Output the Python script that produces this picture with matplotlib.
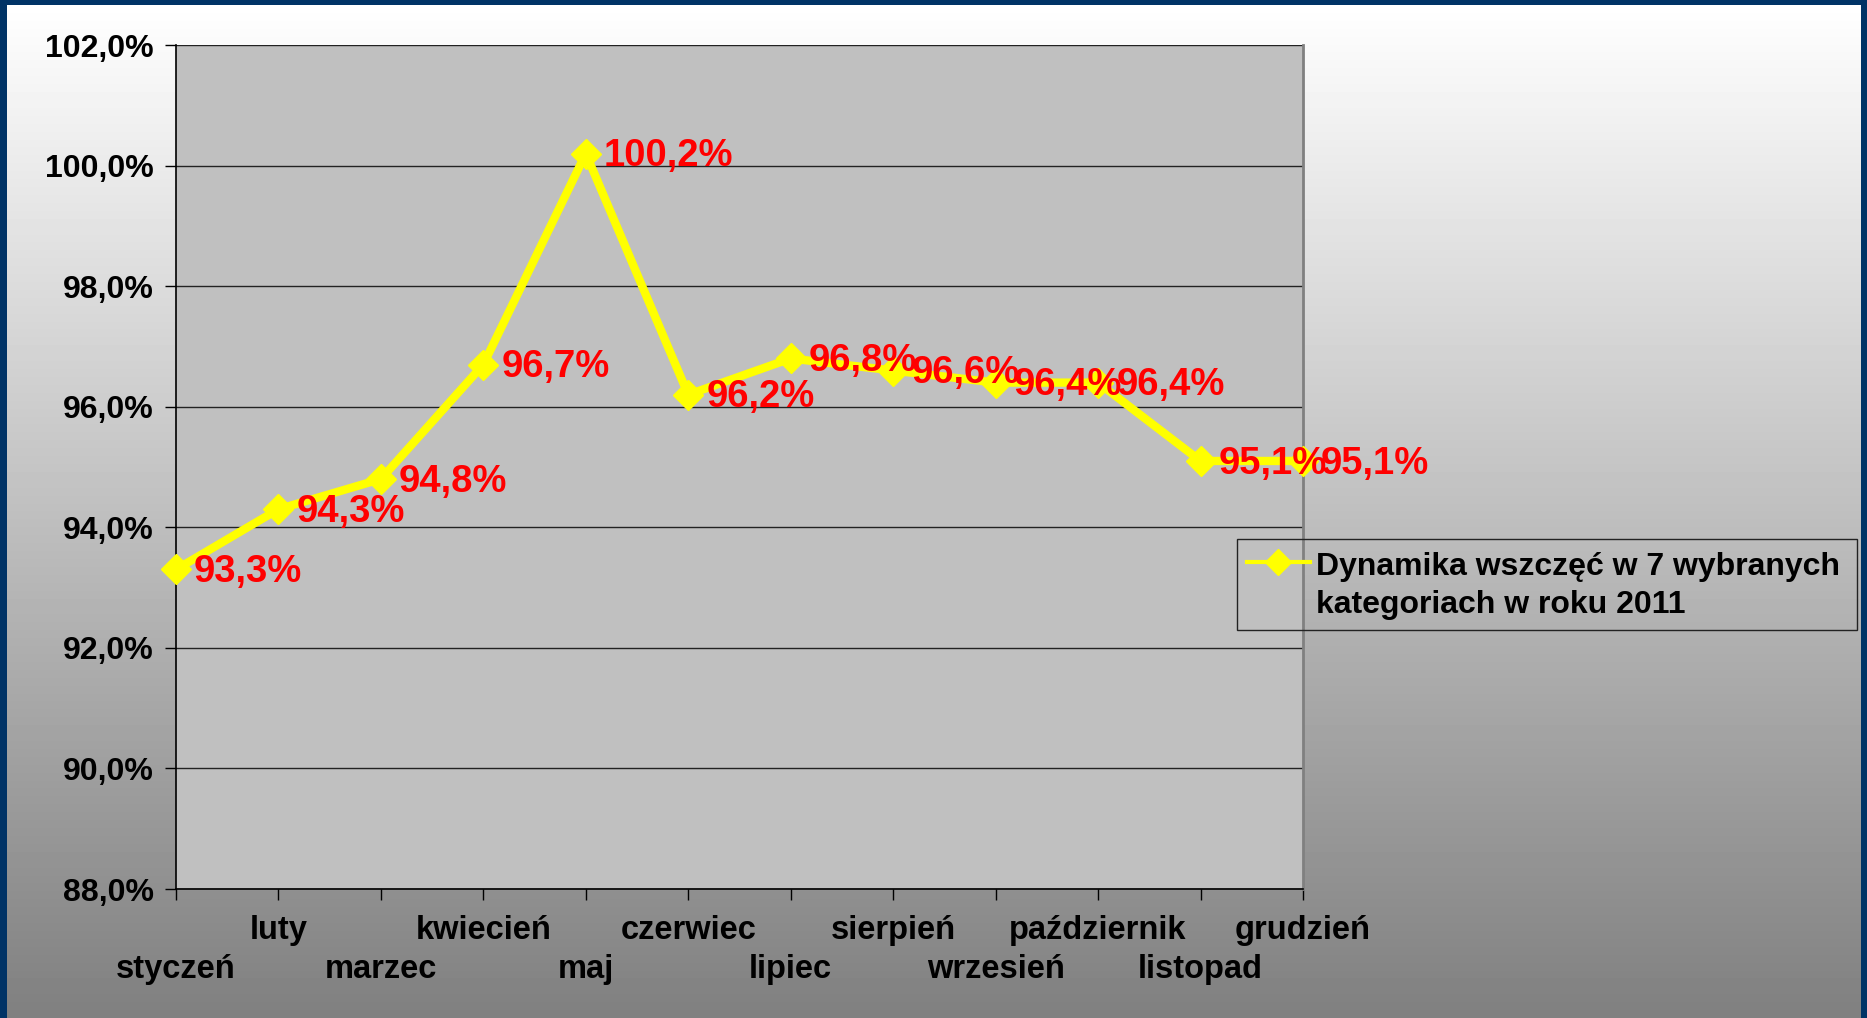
import numpy as np
import matplotlib
matplotlib.use("Agg")
import matplotlib.pyplot as plt
from matplotlib.ticker import FuncFormatter
from matplotlib.lines import Line2D
from matplotlib.patches import Rectangle

months = ["styczeń", "luty", "marzec", "kwiecień", "maj", "czerwiec",
          "lipiec", "sierpień", "wrzesień", "październik", "listopad", "grudzień"]
values = [93.3, 94.3, 94.8, 96.7, 100.2, 96.2, 96.8, 96.6, 96.4, 96.4, 95.1, 95.1]
series_name = "Dynamika wszczęć w 7 wybranych\nkategoriach w roku 2011"
y_ticks = [88, 90, 92, 94, 96, 98, 100, 102]

plt.rcParams['font.family'] = ['Liberation Sans', 'DejaVu Sans']
plt.rcParams['font.weight'] = 'bold'

W, H = 1867, 1018
fig = plt.figure(figsize=(W / 100, H / 100), dpi=100)
fig.patch.set_facecolor('#003366')

# gradient background inside border
bg = fig.add_axes([7 / W, 0, (W - 14) / W, (H - 5) / H])
grad = np.linspace(1.0, 0.5, 256).reshape(-1, 1)
bg.imshow(grad, aspect='auto', cmap='gray', vmin=0, vmax=1, extent=[0, 1, 0, 1])
bg.set_axis_off()

ax = fig.add_axes([176 / W, 1 - 889 / H, (1303 - 176) / W, (889 - 45) / H])
ax.set_facecolor('#c0c0c0')
x = np.arange(len(months))
ax.plot(x, values, color='#ffff00', lw=6, marker='D', markersize=15,
        markerfacecolor='#ffff00', markeredgecolor='#ffff00',
        label=series_name, zorder=3, clip_on=False)
for xi, v in zip(x, values):
    ax.annotate(f"{v:.1f}%".replace('.', ','), (xi, v), xytext=(13, -2),
                textcoords='offset points', color='#ff0000', fontsize=27.5,
                fontweight='bold', va='center', ha='left', zorder=4,
                annotation_clip=False)

ax.set_xlim(0, 11)
ax.set_ylim(88, 102)
ax.set_yticks(y_ticks)
ax.yaxis.set_major_formatter(FuncFormatter(lambda v, p: f"{v:.1f}%".replace('.', ',')))
ax.grid(axis='y', color='#222222', lw=1)
ax.set_axisbelow(True)
ax.set_xticks(x)
ax.set_xticklabels([("\n" + m) if i % 2 == 0 else (m + "\n") for i, m in enumerate(months)],
                   linespacing=1.3)
ax.tick_params(axis='x', length=8, width=1, direction='out', pad=11, labelsize=23.5)
ax.tick_params(axis='y', length=8, width=1, direction='out', pad=8, labelsize=23)
for s in ['left', 'bottom']:
    ax.spines[s].set_color('#000000')
    ax.spines[s].set_linewidth(1.2)
ax.spines['top'].set_visible(False)
ax.spines['right'].set_color('#808080')
ax.spines['right'].set_linewidth(2)

# legend (drawn in figure pixel coordinates)
def fx(px):
    return px / W

def fy(py):
    return 1 - py / H

fig.patches.append(Rectangle((fx(1237), fy(630)), fx(1857) - fx(1237), fy(539) - fy(630),
                             transform=fig.transFigure, facecolor='none',
                             edgecolor='#222222', lw=1, zorder=5))
fig.add_artist(Line2D([fx(1247), fx(1310)], [fy(562), fy(562)], transform=fig.transFigure,
                      color='#ffff00', lw=3, zorder=6))
fig.add_artist(Line2D([fx(1278)], [fy(562)], transform=fig.transFigure, color='#ffff00',
                      marker='D', markersize=13, lw=0, zorder=7))
fig.text(fx(1316), fy(586), series_name, fontsize=23, fontweight='bold', ha='left',
         va='center', linespacing=1.35, zorder=6)

fig.savefig("out.png", dpi=100, facecolor=fig.get_facecolor())
